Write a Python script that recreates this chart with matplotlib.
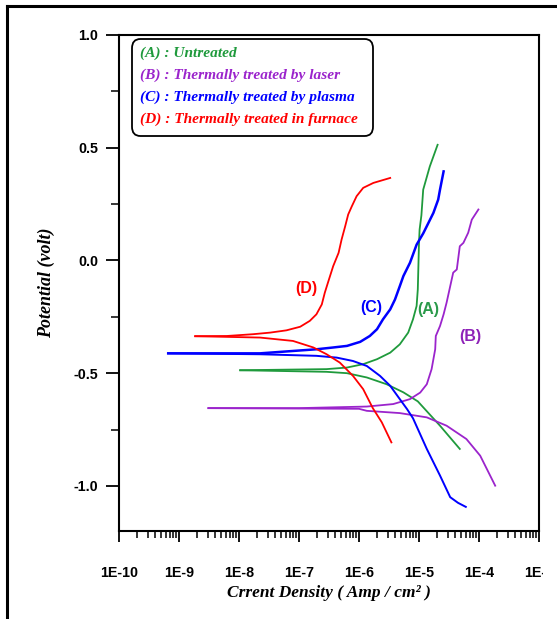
import matplotlib
matplotlib.use("Agg")
import numpy as np
import matplotlib.pyplot as plt
from matplotlib.patches import FancyBboxPatch
from matplotlib.lines import Line2D
from matplotlib.transforms import Bbox, TransformedBbox
from matplotlib.ticker import LogLocator, MultipleLocator, FixedFormatter, FixedLocator

# ---- data: log10 of current density (A/cm2) and potential (V)
# (A) untreated
a_an_log = [-7.98, -6.54, -6.2, -5.93, -5.7, -5.48, -5.32, -5.18, -5.1, -5.04, -5.02, -5.01, -5.0, -4.99, -4.96, -4.93, -4.82, -4.69]
a_an_e = [-0.487, -0.482, -0.475, -0.46, -0.438, -0.409, -0.372, -0.32, -0.261, -0.202, -0.128, -0.025, 0.078, 0.137, 0.2, 0.314, 0.417, 0.513]
a_ca_log = [-7.98, -6.54, -6.2, -5.87, -5.54, -5.26, -5.02, -4.65, -4.32]
a_ca_e = [-0.487, -0.494, -0.5, -0.519, -0.549, -0.585, -0.625, -0.733, -0.836]
# (B) laser
b_an_log = [-8.51, -7.0, -5.87, -5.43, -5.15, -4.98, -4.87, -4.79, -4.73, -4.72, -4.65, -4.59, -4.54, -4.43, -4.37, -4.32, -4.26, -4.18, -4.12, -4.01]
b_an_e = [-0.655, -0.655, -0.648, -0.637, -0.615, -0.586, -0.549, -0.482, -0.394, -0.335, -0.291, -0.239, -0.187, -0.054, -0.04, 0.063, 0.078, 0.123, 0.181, 0.226]
b_ca_log = [-8.51, -6.0, -5.87, -5.32, -4.87, -4.54, -4.21, -3.98, -3.73]
b_ca_e = [-0.655, -0.658, -0.667, -0.677, -0.696, -0.733, -0.792, -0.866, -0.999]
# (C) plasma
c_an_log = [-9.18, -7.65, -6.71, -6.43, -6.2, -5.98, -5.82, -5.7, -5.6, -5.48, -5.4, -5.32, -5.26, -5.15, -5.04, -4.93, -4.87, -4.76, -4.68, -4.65, -4.59]
c_an_e = [-0.412, -0.412, -0.394, -0.386, -0.379, -0.361, -0.335, -0.305, -0.261, -0.217, -0.173, -0.114, -0.069, -0.01, 0.07, 0.12, 0.152, 0.211, 0.27, 0.314, 0.395]
c_ca_log = [-9.18, -7.65, -6.71, -6.37, -6.1, -5.87, -5.65, -5.48, -5.32, -5.2, -5.1, -4.87, -4.65, -4.48, -4.35, -4.22]
c_ca_e = [-0.412, -0.416, -0.423, -0.431, -0.446, -0.468, -0.512, -0.556, -0.615, -0.659, -0.7, -0.836, -0.954, -1.05, -1.075, -1.093]
# (D) furnace
d_an_log = [-8.73, -8.2, -7.76, -7.48, -7.21, -6.98, -6.82, -6.71, -6.62, -6.57, -6.51, -6.43, -6.34, -6.29, -6.23, -6.18, -6.12, -6.04, -5.93, -5.76, -5.48]
d_an_e = [-0.336, -0.335, -0.327, -0.32, -0.31, -0.294, -0.268, -0.239, -0.195, -0.143, -0.092, -0.025, 0.034, 0.093, 0.152, 0.204, 0.24, 0.285, 0.322, 0.344, 0.366]
d_ca_log = [-8.73, -7.65, -7.1, -6.76, -6.54, -6.32, -6.1, -5.93, -5.77, -5.62, -5.46]
d_ca_e = [-0.336, -0.342, -0.357, -0.386, -0.416, -0.453, -0.512, -0.571, -0.655, -0.718, -0.807]

legend_lines = ["(A) : Untreated", "(B) : Thermally treated by laser",
                "(C) : Thermally treated by plasma", "(D) : Thermally treated in furnace"]
tag_names = ["(A)", "(B)", "(C)", "(D)"]
tag_log = [-4.85, -4.15, -5.8, -6.87]
tag_e = [-0.217, -0.336, -0.208, -0.125]
x_ticks = [1e-10, 1e-9, 1e-8, 1e-7, 1e-6, 1e-5, 1e-4, 1e-3]
x_labels = ["1E-10", "1E-9", "1E-8", "1E-7", "1E-6", "1E-5", "1E-4", "1E-3"]

green = "#1f9a3c"
purple = "#9b24cc"
blue = "#0000ff"
red = "#ff0000"
colors = [green, purple, blue, red]
tag_colors = ["#2a9a4a", "#8e22b8", blue, red]

fig = plt.figure(figsize=(5.57, 6.19), dpi=100)
ax = fig.add_axes([119/557, 1-531/619, 420/557, 496/619])

def curve(logs, es, col, w=1.3):
    ax.plot(10.0 ** np.array(logs), es, color=col, lw=w, solid_joinstyle="round")

curve(a_an_log, a_an_e, green)
curve(a_ca_log, a_ca_e, green)
curve(b_an_log, b_an_e, purple)
curve(b_ca_log, b_ca_e, purple)
curve(c_an_log, c_an_e, blue, 1.8)
curve(c_ca_log, c_ca_e, blue, 1.4)
curve(d_an_log, d_an_e, red)
curve(d_ca_log, d_ca_e, red)

for name, xl, ye, col in zip(tag_names, tag_log, tag_e, tag_colors):
    ax.text(10.0 ** xl, ye, name, color=col, fontsize=11.5, fontweight="bold",
            family="Liberation Sans", ha="center", va="center")

ax.set_xscale("log")
ax.set_xlim(1e-10, 1e-3)
ax.set_ylim(-1.2, 1.0)

ax.xaxis.set_major_locator(FixedLocator(x_ticks))
ax.xaxis.set_major_formatter(FixedFormatter(x_labels))
ax.xaxis.set_minor_locator(LogLocator(base=10, subs=range(2, 10), numticks=20))
ax.xaxis.set_minor_formatter(FixedFormatter([]))
ax.yaxis.set_minor_locator(MultipleLocator(0.25))
ax.set_yticks([1.0, 0.5, 0.0, -0.5, -1.0])
ax.set_yticklabels(["1.0", "0.5", "0.0", "-0.5", "-1.0"])

ax.tick_params(which="both", direction="out", top=False, right=False)
ax.tick_params(axis="x", which="major", length=8, width=1.3, pad=17)
ax.tick_params(axis="x", which="minor", length=5, width=1.1)
ax.tick_params(axis="y", which="major", length=9.5, width=1.3, pad=5.5)
ax.tick_params(axis="y", which="minor", length=6, width=1.1)
for lbl in ax.get_xticklabels() + ax.get_yticklabels():
    lbl.set_family("Liberation Sans")
    lbl.set_fontweight("bold")
    lbl.set_fontsize(10.3)
for sp in ax.spines.values():
    sp.set_linewidth(1.5)

# last x label is cut off in the reference
clip = TransformedBbox(Bbox([[0, 0], [543/557, 1]]), fig.transFigure)
for lbl in ax.get_xticklabels():
    lbl.set_clip_box(clip)
    lbl.set_clip_on(True)

ax.set_ylabel("Potential (volt)", family="Liberation Serif", style="italic",
              fontweight="bold", fontsize=13, labelpad=13)
ax.set_xlabel("Crrent Density ( Amp / cm² )", family="Liberation Serif",
              style="italic", fontweight="bold", fontsize=12.5, labelpad=4)

# legend box
box = FancyBboxPatch((132/557, 1-136/619), 241/557, 97/619,
                     boxstyle="round,pad=0,rounding_size=0.015",
                     transform=fig.transFigure, facecolor="white",
                     edgecolor="black", lw=1.3)
fig.add_artist(box)
for k, (txt, col) in enumerate(zip(legend_lines, colors)):
    fig.text(140/557, 1-(53 + 22*k)/619, txt, color=col, family="Liberation Serif",
             style="italic", fontweight="bold", fontsize=11.1, va="center")

# outer frame lines
fig.add_artist(Line2D([7/557, 1], [1-6/619, 1-6/619], color="black", lw=2.2,
                      transform=fig.transFigure))
fig.add_artist(Line2D([7/557, 7/557], [0, 1-6/619], color="black", lw=2.2,
                      transform=fig.transFigure))

fig.savefig("out.png", dpi=100)
